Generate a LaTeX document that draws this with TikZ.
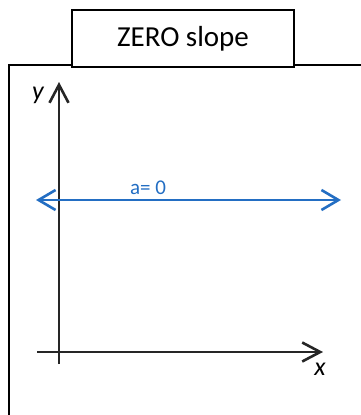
\documentclass[tikz,border=0pt]{standalone}
\usepackage{fontspec}
\setmainfont{Carlito}
\usetikzlibrary{arrows.meta, positioning}
\definecolor{slopeblue}{RGB}{35, 110, 195}

\begin{document}
\begin{tikzpicture}[
        x=1pt, y=-1pt,
        titlebox/.style={draw, line width=1.6pt, minimum width=222pt, minimum height=57pt, font=\fontsize{29}{34}\selectfont, inner sep=0pt},
        frame/.style={line width=1.6pt},
        axis/.style={-{Straight Barb[length=18pt, width=19pt, line width=2.6pt]}, line width=2.8pt, black!85},
        slopeline/.style={{Straight Barb[length=17pt, width=20pt, line width=2.6pt]}-{Straight Barb[length=17pt, width=20pt, line width=2.6pt]}, line width=2.8pt, slopeblue}
      ]
        \useasboundingbox (0,0) rectangle (361,415);
        % title and frame
        \node[titlebox] (title) at (183,38.5) {ZERO slope};
        \coordinate (fbot) at (9,415);
        \coordinate (fcorner) at (9,65);
        \coordinate (fright) at (361,65);
        \draw[frame] (fbot) -- (fcorner) -- (title.south west |- fcorner);
        \draw[frame] (title.south east |- fcorner) -- (fright);
        % axes
        \coordinate (ybot) at (59,364);
        \coordinate (ytop) at (59,82);
        \coordinate (xleft) at (37,352);
        \coordinate (xright) at (323,352);
        \draw[axis] (ybot) -- (ytop);
        \draw[axis] (xleft) -- (xright);
        \node[font=\fontsize{26}{30}\selectfont\itshape] (ylab) at (38,95) {y};
        \node[font=\fontsize{26}{30}\selectfont\itshape] (xlab) at (320,369) {x};
        % zero slope line
        \coordinate (lleft) at (36,200);
        \coordinate (lright) at (341,200);
        \draw[slopeline] (lleft) -- (lright);
        \node[font=\fontsize{21}{25}\selectfont, text=slopeblue] (alab) at (148,188) {a= 0};
      \end{tikzpicture}
\end{document}
